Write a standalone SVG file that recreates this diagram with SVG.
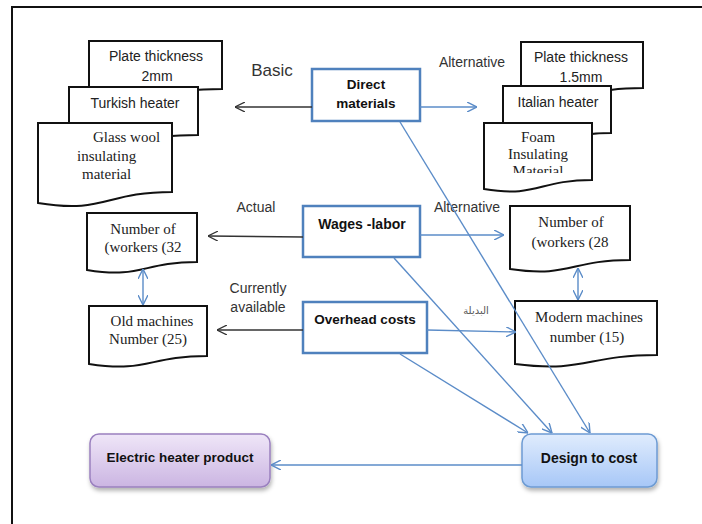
<svg xmlns="http://www.w3.org/2000/svg" width="702" height="524" viewBox="0 0 702 524">
<style>
.doc{fill:#fff;stroke:#111;stroke-width:2;stroke-linejoin:miter}
.box{fill:#fff;stroke:#4f81bd;stroke-width:2.5}
.sans{font-family:"Liberation Sans",Arial,sans-serif;fill:#222;font-size:14px}
.serif{font-family:"Liberation Serif","Times New Roman",serif;font-size:15px;fill:#222}
.bold{font-family:"Liberation Sans",Arial,sans-serif;font-weight:bold;font-size:13.5px;fill:#111}
.lbl{font-family:"Liberation Sans",Arial,sans-serif;font-size:14px;fill:#333}
.blk{stroke:#333;stroke-width:1.3;fill:none;marker-end:url(#ab)}
.blu{stroke:#5b8cc8;stroke-width:1.4;fill:none;marker-end:url(#au)}
.dbl{stroke:#5b8cc8;stroke-width:1.4;fill:none;marker-end:url(#au);marker-start:url(#au)}
</style>
<defs>
<marker id="ab" viewBox="0 0 10 10" refX="10" refY="5" markerWidth="10" markerHeight="10" markerUnits="userSpaceOnUse" orient="auto-start-reverse"><path d="M0,0 L10,5 L0,10" fill="none" stroke="#333" stroke-width="1.3"/></marker>
<marker id="au" viewBox="0 0 10 10" refX="10" refY="5" markerWidth="10" markerHeight="10" markerUnits="userSpaceOnUse" orient="auto-start-reverse"><path d="M0,0 L10,5 L0,10" fill="none" stroke="#5b8cc8" stroke-width="1.4"/></marker>
<linearGradient id="gp" x1="0" y1="0" x2="0" y2="1"><stop offset="0" stop-color="#efe6f8"/><stop offset="1" stop-color="#cbb5e2"/></linearGradient>
<linearGradient id="gb" x1="0" y1="0" x2="0" y2="1"><stop offset="0" stop-color="#e0ecfd"/><stop offset="1" stop-color="#a7c7f7"/></linearGradient>
<filter id="sh" x="-10%" y="-10%" width="125%" height="135%"><feDropShadow dx="1" dy="3" stdDeviation="2" flood-color="#000" flood-opacity="0.3"/></filter>
<clipPath id="foamclip"><rect x="484" y="123" width="108" height="50"/></clipPath>
</defs>

<g id="frame" fill="none" stroke="#111" stroke-width="2">
<path d="M12,524 V7 H702"/>
</g>

<g id="plate-2mm">
<path class="doc" d="M89,41 H222 V89 C155.5,89 155.5,105 89,97 Z"/>
<text class="sans" x="156" y="61" text-anchor="middle">Plate thickness</text>
<text class="sans" x="157" y="81" text-anchor="middle">2mm</text>
</g>
<g id="turkish-heater">
<path class="doc" d="M69,87 H198 V135 C133.5,135 133.5,151 69,143 Z"/>
<text class="sans" x="135" y="108" text-anchor="middle">Turkish heater</text>
</g>
<g id="glass-wool">
<path class="doc" d="M38,123 H172 V192 C105,192 105,214 38,203 Z"/>
<text class="serif" x="93" y="142">Glass wool</text>
<text class="serif" x="77" y="161">insulating</text>
<text class="serif" x="82" y="179">material</text>
</g>

<g id="plate-1-5mm">
<path class="doc" d="M521,42 H643 V88 C582,88 582,104 521,96 Z"/>
<text class="sans" x="581" y="62" text-anchor="middle">Plate thickness</text>
<text class="sans" x="581" y="82" text-anchor="middle">1.5mm</text>
</g>
<g id="italian-heater">
<path class="doc" d="M503,86 H611 V133 C557,133 557,149 503,141 Z"/>
<text class="sans" x="558" y="107" text-anchor="middle">Italian heater</text>
</g>
<g id="foam">
<path class="doc" d="M484,123 H592 V180 C538,180 538,198 484,189 Z"/>
<g clip-path="url(#foamclip)">
<text class="serif" x="538" y="142" text-anchor="middle">Foam</text>
<text class="serif" x="538" y="159" text-anchor="middle">Insulating</text>
<text class="serif" x="538" y="176" text-anchor="middle">Material</text>
</g>
</g>

<g id="direct-materials">
<rect class="box" x="312" y="69" width="108" height="52"/>
<text class="bold" x="366" y="89" text-anchor="middle">Direct</text>
<text class="bold" x="366" y="108" text-anchor="middle">materials</text>
</g>
<g id="wages-labor">
<rect class="box" x="303" y="206" width="117" height="51"/>
<text class="bold" x="362" y="229" text-anchor="middle" style="font-size:14px">Wages -labor</text>
</g>
<g id="overhead-costs">
<rect class="box" x="303" y="302" width="124" height="51"/>
<text class="bold" x="365" y="324" text-anchor="middle">Overhead costs</text>
</g>

<g id="workers-32">
<path class="doc" d="M87,213 H197 V262 C142,262 142,279 87,270 Z"/>
<text class="serif" x="143" y="234" text-anchor="middle">Number of</text>
<text class="serif" x="143" y="252" text-anchor="middle">(workers (32</text>
</g>
<g id="old-machines">
<path class="doc" d="M89,306 H207 V356 C148,356 148,373 89,364 Z"/>
<text class="serif" x="152" y="326" text-anchor="middle">Old machines</text>
<text class="serif" x="148" y="344" text-anchor="middle">Number (25)</text>
</g>
<g id="workers-28">
<path class="doc" d="M510,206 H630 V260 C570,260 570,278 510,269 Z"/>
<text class="serif" x="571" y="227" text-anchor="middle">Number of</text>
<text class="serif" x="570" y="247" text-anchor="middle">(workers (28</text>
</g>
<g id="modern-machines">
<path class="doc" d="M515,301 H657 V355 C586,355 586,373 515,364 Z"/>
<text class="serif" x="589" y="322" text-anchor="middle">Modern machines</text>
<text class="serif" x="587" y="342" text-anchor="middle">number (15)</text>
</g>

<g id="electric-heater-product">
<rect x="90" y="434" width="180" height="53" rx="9" fill="url(#gp)" stroke="#9a80bf" stroke-width="1.5" filter="url(#sh)"/>
<text class="bold" x="180" y="462" text-anchor="middle">Electric heater product</text>
</g>
<g id="design-to-cost">
<rect x="522" y="434" width="135" height="53" rx="9" fill="url(#gb)" stroke="#6d9bd3" stroke-width="1.5" filter="url(#sh)"/>
<text class="bold" x="589" y="463" text-anchor="middle" style="font-size:14px">Design to cost</text>
</g>

<g id="labels">
<text class="lbl" x="272" y="76" text-anchor="middle" style="font-size:17px">Basic</text>
<text class="lbl" x="472" y="67" text-anchor="middle">Alternative</text>
<text class="lbl" x="256" y="212" text-anchor="middle">Actual</text>
<text class="lbl" x="467" y="212" text-anchor="middle">Alternative</text>
<text class="lbl" x="258" y="293" text-anchor="middle">Currently</text>
<text class="lbl" x="258" y="312" text-anchor="middle">available</text>
<text x="476" y="314" text-anchor="middle" font-family="'DejaVu Sans','Noto Sans',sans-serif" font-size="10" fill="#555">البديلة</text>
</g>

<g id="connectors">
<line class="blk" x1="312" y1="107" x2="235" y2="107"/>
<line class="blu" x1="420" y1="107" x2="477" y2="107"/>
<line class="blk" x1="303" y1="237" x2="208" y2="236"/>
<line class="blu" x1="420" y1="235" x2="504" y2="235"/>
<line class="blk" x1="303" y1="330" x2="217" y2="330"/>
<line class="blu" x1="427" y1="330" x2="516" y2="332"/>
<line class="dbl" x1="143" y1="269" x2="143" y2="305"/>
<line class="dbl" x1="578" y1="268" x2="578" y2="300"/>
<line class="blu" x1="400" y1="354" x2="528" y2="433"/>
<line class="blu" x1="394" y1="258" x2="552" y2="433"/>
<line class="blu" x1="400" y1="122" x2="590" y2="433"/>
<line class="blu" x1="522" y1="465" x2="271" y2="465"/>
</g>
</svg>
